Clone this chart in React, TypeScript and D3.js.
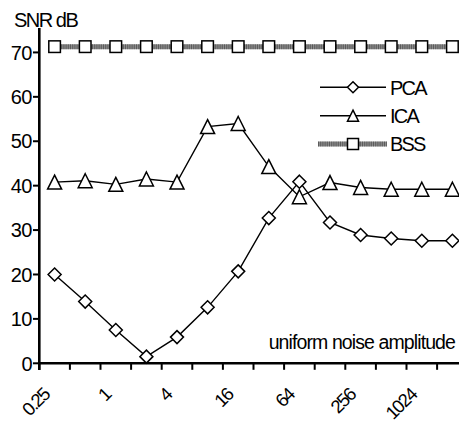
import React from "react";
import * as d3 from "d3";

const categories = ["0.25", "0.5", "1", "2", "4", "8", "16", "32", "64", "128", "256", "512", "1024", "2048"];
const shownLabels = ["0.25", "1", "4", "16", "64", "256", "1024"];
const pcaValues = [20.0, 13.9, 7.5, 1.5, 5.9, 12.6, 20.7, 32.7, 40.9, 31.7, 28.9, 28.1, 27.6, 27.6];
const icaValues = [40.8, 41.1, 40.3, 41.5, 40.8, 53.3, 54.0, 44.3, 37.5, 40.7, 39.6, 39.2, 39.2, 39.2];
const bssValues = [71.3, 71.3, 71.3, 71.3, 71.3, 71.3, 71.3, 71.3, 71.3, 71.3, 71.3, 71.3, 71.3, 71.3];
const yTicks = [0, 10, 20, 30, 40, 50, 60, 70];
const legendItems = ["PCA", "ICA", "BSS"];

const W = 459;
const H = 425;
const FONT = "'Liberation Sans', Arial, sans-serif";

const x = d3.scaleBand<string>().domain(categories).range([39.3, 39.3 + 14 * 30.6]).padding(0);
const y = d3.scaleLinear().domain([0, 75.5]).range([363.3, 28]);

const cx = (c: string) => (x(c) as number) + x.bandwidth() / 2;

function Diamond({ px, py, s = 6.5 }: { px: number; py: number; s?: number }) {
  return (
    <path
      d={`M${px},${py - s}L${px + s},${py}L${px},${py + s}L${px - s},${py}Z`}
      fill="white"
      stroke="black"
      strokeWidth={1.5}
    />
  );
}
function Triangle({ px, py, s = 7 }: { px: number; py: number; s?: number }) {
  return (
    <path
      d={`M${px},${py - s}L${px + s},${py + s}L${px - s},${py + s}Z`}
      fill="white"
      stroke="black"
      strokeWidth={1.5}
    />
  );
}
function Square({ px, py, s = 5.8 }: { px: number; py: number; s?: number }) {
  return (
    <rect x={px - s} y={py - s} width={2 * s} height={2 * s} fill="white" stroke="black" strokeWidth={1.5} />
  );
}

function BssStroke({ d }: { d: string }) {
  return (
    <g>
      <path d={d} fill="none" stroke="#8c8c8c" strokeWidth={5} />
      <path d={d} fill="none" stroke="#333" strokeWidth={5} strokeDasharray="1 1.2" opacity={0.55} />
    </g>
  );
}

export default function App() {
  const line = d3
    .line<number>()
    .x((_, i) => cx(categories[i]))
    .y((v) => y(v));

  const pcaPath = line(pcaValues) as string;
  const icaPath = line(icaValues) as string;
  const bssPath = line(bssValues) as string;

  const boundaries = categories.map((c) => x(c) as number).concat([(x(categories[13]) as number) + x.bandwidth()]);
  const xEnd = boundaries[boundaries.length - 1];

  const legendY = [87.3, 115.7, 144];

  return (
    <svg
      width={W}
      height={H}
      style={{ position: "fixed", left: 0, top: 0, background: "white", fontFamily: FONT }}
    >
      <rect x={0} y={0} width={W} height={H} fill="white" />

      {/* BSS */}
      <BssStroke d={bssPath} />
      {bssValues.map((v, i) => (
        <Square key={"b" + i} px={cx(categories[i])} py={y(v)} />
      ))}

      {/* ICA */}
      <path d={icaPath} fill="none" stroke="black" strokeWidth={1.4} />
      {icaValues.map((v, i) => (
        <Triangle key={"i" + i} px={cx(categories[i])} py={y(v)} />
      ))}

      {/* PCA */}
      <path d={pcaPath} fill="none" stroke="black" strokeWidth={1.4} />
      {pcaValues.map((v, i) => (
        <Diamond key={"p" + i} px={cx(categories[i])} py={y(v)} />
      ))}

      {/* Y axis */}
      <line x1={39.3} x2={39.3} y1={28} y2={370} stroke="black" strokeWidth={2.6} />
      {yTicks.map((t) => (
        <g key={"yt" + t}>
          <line x1={33} x2={39.3} y1={y(t)} y2={y(t)} stroke="black" strokeWidth={2} />
          <text
            x={32}
            y={y(t)}
            dy="0.36em"
            textAnchor="end"
            fontSize={20}
            letterSpacing={-0.5}
            fill="black"
          >
            {t}
          </text>
        </g>
      ))}

      {/* X axis */}
      <line x1={38} x2={xEnd} y1={y(0)} y2={y(0)} stroke="black" strokeWidth={2.6} />
      {boundaries.map((b, i) => (
        <line key={"xt" + i} x1={b} x2={b} y1={y(0)} y2={y(0) + 6.5} stroke="black" strokeWidth={2} />
      ))}
      {shownLabels.map((l) => {
        const ax = cx(l) - 4;
        const ay = 396;
        return (
          <text
            key={"xl" + l}
            x={ax}
            y={ay}
            textAnchor="end"
            fontSize={18.5}
            letterSpacing={-1.6}
            transform={`rotate(-45 ${ax} ${ay})`}
            fill="black"
          >
            {l}
          </text>
        );
      })}

      {/* Titles */}
      <text x={14} y={27} fontSize={20} letterSpacing={-1.5} fill="black">
        SNR dB
      </text>
      <text x={455} y={349} textAnchor="end" fontSize={19.5} letterSpacing={-0.9} fill="black">
        uniform noise amplitude
      </text>

      {/* Legend */}
      <line x1={320} x2={386} y1={legendY[0]} y2={legendY[0]} stroke="black" strokeWidth={1.4} />
      <Diamond px={353} py={legendY[0]} s={5.5} />
      <line x1={320} x2={386} y1={legendY[1]} y2={legendY[1]} stroke="black" strokeWidth={1.4} />
      <Triangle px={353} py={legendY[1]} s={5.5} />
      <BssStroke d={`M318,${legendY[2]}L387,${legendY[2]}`} />
      <Square px={353} py={legendY[2]} s={5.5} />
      {legendItems.map((l, i) => (
        <text
          key={"lg" + l}
          x={390}
          y={legendY[i]}
          dy="0.36em"
          fontSize={20}
          letterSpacing={-1.8}
          fill="black"
        >
          {l}
        </text>
      ))}
    </svg>
  );
}
